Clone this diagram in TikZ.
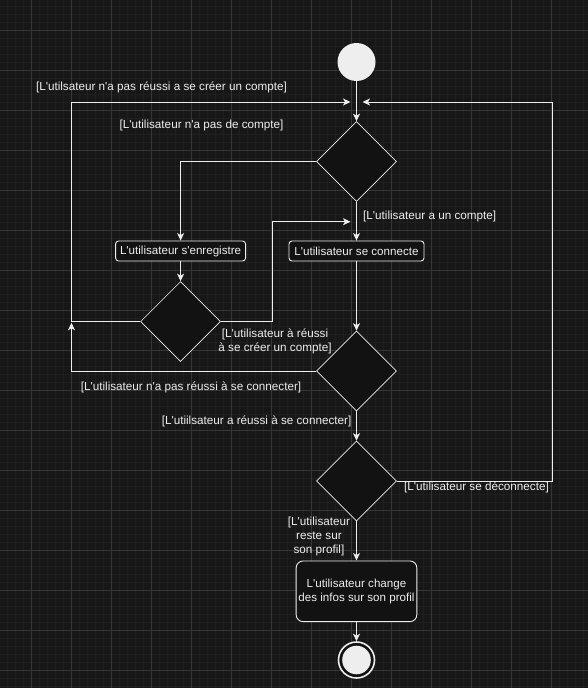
\documentclass[tikz,border=0pt]{standalone}
\usepackage{fontspec}
\newfontfamily\labfont{Liberation Sans}
\usetikzlibrary{shapes.geometric,arrows.meta}
\definecolor{bgc}{HTML}{171717}
\definecolor{minorc}{HTML}{1F1F1F}
\definecolor{majorc}{HTML}{363636}
\definecolor{fgc}{HTML}{EEEEEE}
\definecolor{fillc}{HTML}{121212}
\newcommand\apq{\textquotesingle}
\tikzset{
  wire/.style={draw=fgc, line width=1pt},
  arr/.style={wire, -{Stealth[length=7.5pt,width=7pt,inset=2pt]}},
  actbox/.style={draw=fgc, fill=fillc, line width=0.9pt, rounded corners=3pt, inner sep=0pt, text=fgc, font=\labfont\fontsize{11.6}{13.6}\selectfont, align=center},
  decision/.style={diamond, draw=fgc, fill=fillc, line width=0.7pt, minimum width=80pt, minimum height=80pt, inner sep=0pt, aspect=1},
  guard/.style={text=fgc, font=\labfont\fontsize{11.7}{13.6}\selectfont, inner sep=0pt, align=center},
}
\begin{document}
\begin{tikzpicture}[x=1pt,y=-1pt]
\useasboundingbox (0,0) rectangle (588,688);
\fill[bgc] (0,0) rectangle (588,688);
\foreach \i in {0,...,72} {\draw[minorc, line width=1pt] (7.5+8*\i,0) -- (7.5+8*\i,688);}
\foreach \i in {0,...,85} {\draw[minorc, line width=1pt] (0,6+8*\i) -- (588,6+8*\i);}
\foreach \i in {0,...,13} {\draw[majorc, line width=1pt] (31.5+40*\i,0) -- (31.5+40*\i,688);}
\foreach \i in {0,...,16} {\draw[majorc, line width=1pt] (0,30+40*\i) -- (588,30+40*\i);}

% nodes
\node[circle, fill=fgc, minimum size=38pt, inner sep=0pt] (start) at (356.5,62) {};
\node[decision] (d1) at (356.5,161.5) {};
\node[actbox, minimum width=130pt, minimum height=20pt] (boxA) at (180.6,251) {L\apq utilisateur s\apq enregistre};
\node[actbox, minimum width=135pt, minimum height=20pt] (boxB) at (356.5,251) {L\apq utilisateur se connecte};
\node[decision] (d2) at (180.6,321.5) {};
\node[decision] (d3) at (356.5,371) {};
\node[decision] (d4) at (356.5,481) {};
\node[actbox, rounded corners=7pt, minimum width=120.7pt, minimum height=60.7pt] (boxC) at (356.5,591.3) {L\apq utilisateur change\\des infos sur son profil};
\node[circle, draw=fgc, line width=1.6pt, fill=fillc, minimum size=36pt, inner sep=0pt] (end) at (356.5,660) {};
\fill[fgc] (end.center) circle (14.3pt);

% junction points
\coordinate (jl) at (350.5,102);
\coordinate (jr) at (362.5,102);
\coordinate (ja) at (350.5,221.7);
\coordinate (lu) at (71.5,102);
\coordinate (lm) at (71.5,321.5);
\coordinate (lt) at (71.5,322.8);
\coordinate (ll) at (71.5,371);
\coordinate (ru) at (552.3,102);
\coordinate (rl) at (552.3,481);
\coordinate (mu) at (272.5,221.7);
\coordinate (ml) at (272.5,321.5);

% connectors
\draw[arr] (start) -- (d1.north);
\draw[arr] (d1.west) -| (boxA.north);
\draw[arr] (d1.south) -- (boxB.north);
\draw[arr] (boxA) -- (d2.north);
\draw[arr] (boxB) -- (d3.north);
\draw[arr] (d2.west) -- (lm) -- (lu) -- (jl);
\draw[arr] (d3.west) -- (ll) -- (lt);
\draw[arr] (d2.east) -- (ml) -- (mu) -- (ja);
\draw[arr] (d3.south) -- (d4.north);
\draw[arr] (d4.east) -- (rl) -- (ru) -- (jr);
\draw[arr] (d4.south) -- (boxC.north);
\draw[arr] (boxC.south) -- (end.north);

% guards
\node[guard] (g1) at (161.5,87.3) {[L\apq utilsateur n\apq a pas réussi a se créer un compte]};
\node[guard] (g2) at (201.5,125.5) {[L\apq utilisateur n\apq a pas de compte]};
\node[guard, anchor=west] (g3) at (363,216.7) {[L\apq utilisateur a un compte]};
\node[guard] (g4) at (275,341.5) {[L\apq utilisateur à réussi\\à se créer un compte]};
\node[guard] (g5) at (191,387.3) {[L\apq utilisateur n\apq a pas réussi à se connecter]};
\node[guard, anchor=east] (g6) at (351.5,421) {[L\apq utiilsateur a réussi à se connecter]};
\node[guard] (g7) at (476.5,487) {[L\apq utilisateur se déconnecte]};
\node[guard] (g8) at (319,536.5) {[L\apq utilisateur\\reste sur\\son profil]};
\end{tikzpicture}
\end{document}
